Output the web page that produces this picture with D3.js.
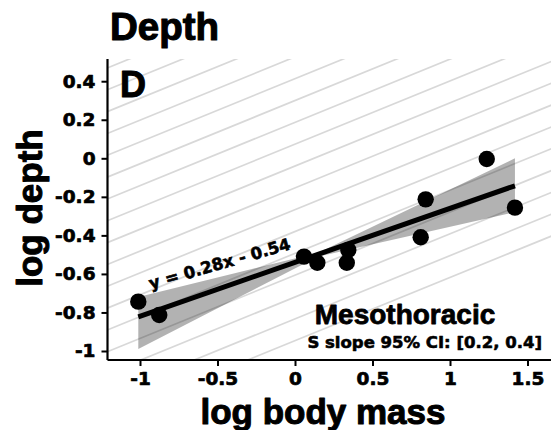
<!DOCTYPE html>
<html>
<head>
<meta charset="utf-8">
<script src="https://cdn.jsdelivr.net/npm/d3@7"></script>
<style>
  html, body { margin: 0; padding: 0; background: #fff; }
  svg { display: block; }
</style>
</head>
<body>
<div id="chart"></div>
<script>
// ---- data ----
const massX = [-1.011, -0.876, 0.058, 0.144, 0.344, 0.334, 0.843, 0.811, 1.237, 1.419];
const depthY = [-0.744, -0.813, -0.510, -0.542, -0.476, -0.542, -0.213, -0.410, -0.004, -0.256];
const fitSlope = 0.28;
const fitIntercept = -0.54;
const bandX = [-1.011, 0.15, 1.419];
const bandLo = [-0.99, -0.51, -0.28];
const bandHi = [-0.72, -0.49, 0.00];
const xTicks = [-1, -0.5, 0, 0.5, 1, 1.5];
const xTickLabels = ["-1", "-0.5", "0", "0.5", "1", "1.5"];
const yTicks = [0.4, 0.2, 0, -0.2, -0.4, -0.6, -0.8, -1];
const yTickLabels = ["0.4", "0.2", "0", "-0.2", "-0.4", "-0.6", "-0.8", "-1"];
const titleText = "Depth";
const panelLabel = "D";
const xTitle = "log body mass";
const yTitle = "log depth";
const groupLabel = "Mesothoracic";
const ciLabel = "S slope 95% CI: [0.2, 0.4]";

// ---- layout ----
const W = 551, H = 430;
const m = { left: 107.5, top: 59, right: 0, bottom: 70 };
const pw = W - m.left - m.right, ph = H - m.top - m.bottom;

const x = d3.scaleLinear().domain([-1.2097, 1.6516]).range([0, pw]);
const y = d3.scaleLinear().domain([-1.0467, 0.5153]).range([ph, 0]);

const LIB = "'Liberation Sans', Arial, sans-serif";
const DJV = "'DejaVu Sans', sans-serif";

const svg = d3.select("#chart").append("svg").attr("width", W).attr("height", H);

function heavy(sel, w) {
  return sel.attr("fill", "#000").attr("stroke", "#000").attr("stroke-width", w)
    .attr("stroke-linejoin", "round");
}

heavy(svg.append("text").attr("x", 110).attr("y", 40)
  .attr("font-family", LIB).attr("font-weight", "bold").attr("font-size", 38.5)
  .text(titleText), 1.1);

const g = svg.append("g").attr("transform", `translate(${m.left},${m.top})`);

g.append("clipPath").attr("id", "clip").append("rect")
  .attr("x", 0).attr("y", 0).attr("width", pw).attr("height", ph);

// background hatching
const hatch = g.append("g").attr("clip-path", "url(#clip)");
const ang = 22.2 * Math.PI / 180, step = 53.5, x0 = 343.3 - m.left;
for (let k = -20; k <= 12; k++) {
  const sx = x0 + k * step;
  const L = 900;
  hatch.append("line")
    .attr("x1", sx - L * Math.cos(ang)).attr("y1", L * Math.sin(ang))
    .attr("x2", sx + L * Math.cos(ang)).attr("y2", -L * Math.sin(ang))
    .attr("stroke", "#d8d8d8").attr("stroke-width", 1.7);
}

// CI band
const bandData = bandX.map((v, i) => ({ x: v, lo: bandLo[i], hi: bandHi[i] }));
g.append("path").datum(bandData)
  .attr("d", d3.area().x(d => x(d.x)).y0(d => y(d.lo)).y1(d => y(d.hi)))
  .attr("fill", "#000").attr("fill-opacity", 0.3);

// fit line
const xmin = d3.min(massX), xmax = d3.max(massX);
g.append("path").datum([xmin, xmax])
  .attr("d", d3.line().x(d => x(d)).y(d => y(fitSlope * d + fitIntercept)))
  .attr("stroke", "#000").attr("stroke-width", 5).attr("fill", "none");

// points
g.selectAll("circle.pt").data(massX.map((v, i) => [v, depthY[i]]))
  .join("circle").attr("class", "pt")
  .attr("cx", d => x(d[0])).attr("cy", d => y(d[1])).attr("r", 8.2).attr("fill", "#000");

// equation
const eq = `y = ${fitSlope.toFixed(2)}x - ${Math.abs(fitIntercept).toFixed(2)}`;
const ex = x(-0.93), ey = y(-0.68);
heavy(g.append("text").attr("transform", `translate(${ex},${ey}) rotate(-16)`)
  .attr("font-family", DJV).attr("font-weight", "bold").attr("font-size", 16.5)
  .text(eq), 0.6);

// panel label
heavy(g.append("text").attr("x", 120 - m.left).attr("y", 96.5 - m.top)
  .attr("font-family", LIB).attr("font-weight", "bold").attr("font-size", 36)
  .text(panelLabel), 1.0);

heavy(g.append("text").attr("x", 405 - m.left).attr("y", 324 - m.top).attr("text-anchor", "middle")
  .attr("font-family", LIB).attr("font-weight", "bold").attr("font-size", 28)
  .text(groupLabel), 0.8);
heavy(g.append("text").attr("x", 542 - m.left).attr("y", 348.3 - m.top).attr("text-anchor", "end")
  .attr("font-family", DJV).attr("font-weight", "bold").attr("font-size", 16.5)
  .text(ciLabel), 0.6);

// axes
const xAxis = d3.axisBottom(x).tickValues(xTicks)
  .tickFormat((d, i) => xTickLabels[i]).tickSize(6).tickPadding(6);
const yAxis = d3.axisLeft(y).tickValues(yTicks)
  .tickFormat((d, i) => yTickLabels[i]).tickSize(6).tickPadding(6);

const gx = g.append("g").attr("transform", `translate(0,${ph})`).call(xAxis);
const gy = g.append("g").call(yAxis);
[gx, gy].forEach(a => {
  a.select(".domain").attr("stroke", "#000").attr("stroke-width", 2.2);
  a.selectAll(".tick line").attr("stroke", "#000").attr("stroke-width", 2);
  heavy(a.selectAll(".tick text")
    .attr("font-family", DJV).attr("font-weight", "bold").attr("font-size", 18.5), 0.7);
});
gx.select(".domain").attr("d", `M0,0H${pw}`);
gy.select(".domain").attr("d", `M0,0V${ph}`);

// axis titles
heavy(svg.append("text").attr("x", m.left + x(0) + (323 - 295)).attr("y", 424)
  .attr("text-anchor", "middle")
  .attr("font-family", LIB).attr("font-weight", "bold").attr("font-size", 35)
  .text(xTitle), 1.0);
heavy(svg.append("text").attr("transform", `translate(42,208) rotate(-90)`)
  .attr("text-anchor", "middle")
  .attr("font-family", LIB).attr("font-weight", "bold").attr("font-size", 35)
  .text(yTitle), 1.0);
</script>
</body>
</html>
